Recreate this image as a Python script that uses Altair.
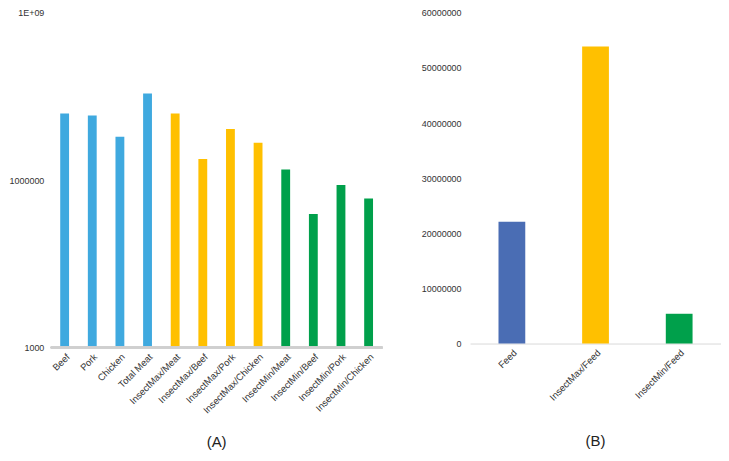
import altair as alt
import pandas as pd

# Panel A (log scale)
a_categories = ["Beef", "Pork", "Chicken", "Total Meat",
                "InsectMax/Meat", "InsectMax/Beef", "InsectMax/Pork", "InsectMax/Chicken",
                "InsectMin/Meat", "InsectMin/Beef", "InsectMin/Pork", "InsectMin/Chicken"]
a_values = [1.57e7, 1.45e7, 6.0e6, 3.6e7,
            1.57e7, 2.4e6, 8.3e6, 4.7e6,
            1.55e6, 2.47e5, 8.2e5, 4.7e5]
a_groups = ["Meat", "Meat", "Meat", "Meat",
            "InsectMax", "InsectMax", "InsectMax", "InsectMax",
            "InsectMin", "InsectMin", "InsectMin", "InsectMin"]
a_ticks = [1000, 1000000, 1000000000]
a_base = 1000

# Panel B (linear scale)
b_categories = ["Feed", "InsectMax/Feed", "InsectMin/Feed"]
b_values = [22.1e6, 53.9e6, 5.4e6]
b_groups = ["Feed", "InsectMax", "InsectMin"]
b_ticks = [0, 10000000, 20000000, 30000000, 40000000, 50000000, 60000000]

group_domain = ["Meat", "InsectMax", "InsectMin", "Feed"]
group_colors = ["#3FA9DF", "#FFC000", "#00A04B", "#4A6DB4"]

FONT = "Liberation Sans"
LABEL_COLOR = "#333333"
AXIS_LINE = "#D9D9D9"

df_a = pd.DataFrame({"category": a_categories, "value": a_values, "group": a_groups})
df_b = pd.DataFrame({"category": b_categories, "value": b_values, "group": b_groups})

color = alt.Color("group:N", scale=alt.Scale(domain=group_domain, range=group_colors), legend=None)


def x_axis():
    return alt.Axis(title=None, labelAngle=-45, labelFontSize=9.5, labelFont=FONT,
                    labelColor=LABEL_COLOR, ticks=False, domain=True, domainColor=AXIS_LINE,
                    labelPadding=4, grid=False)


a_y = alt.Y("value:Q",
            scale=alt.Scale(type="log", domain=[1000, 1e9]),
            axis=alt.Axis(title=None, values=a_ticks, grid=False, domain=False, ticks=False,
                          labelFontSize=9, labelFont=FONT, labelColor=LABEL_COLOR,
                          labelPadding=7,
                          labelExpr="datum.value >= 1e9 ? '1E+09' : format(datum.value, 'd')"))

bars_a = alt.Chart(df_a).mark_bar().encode(
    x=alt.X("category:N", sort=a_categories,
            scale=alt.Scale(paddingInner=0.68, paddingOuter=0.34), axis=x_axis()),
    y=a_y,
    y2=alt.Y2(datum=a_base),
    color=color,
)

base_line_a = alt.Chart(df_a).mark_rule(color="#CFCFCF", strokeWidth=1.5).encode(
    y=alt.Y(datum=a_base),
)

chart_a = alt.layer(bars_a, base_line_a).properties(
    width=333, height=336,
    title=alt.TitleParams("(A)", orient="bottom", fontSize=15, fontWeight="normal",
                          font=FONT, color="#222222", offset=20, frame="group"),
)

chart_b = alt.Chart(df_b).mark_bar().encode(
    x=alt.X("category:N", sort=b_categories,
            scale=alt.Scale(paddingInner=0.68, paddingOuter=0.34), axis=x_axis()),
    y=alt.Y("value:Q",
            scale=alt.Scale(domain=[0, 60e6]),
            axis=alt.Axis(title=None, values=b_ticks, grid=False, domain=False, ticks=False,
                          labelFontSize=9, labelFont=FONT, labelColor=LABEL_COLOR,
                          labelPadding=9, format="d")),
    color=color,
).properties(
    width=252, height=332,
    title=alt.TitleParams("(B)", orient="bottom", fontSize=15, fontWeight="normal",
                          font=FONT, color="#222222", offset=32, frame="group"),
)

chart = alt.hconcat(chart_a, chart_b, spacing=37).properties(
    padding={"left": 0, "top": 0, "right": 0, "bottom": 0}
).configure_view(stroke=None)

chart.save("out.html", embed_options={"renderer": "svg", "actions": False})
